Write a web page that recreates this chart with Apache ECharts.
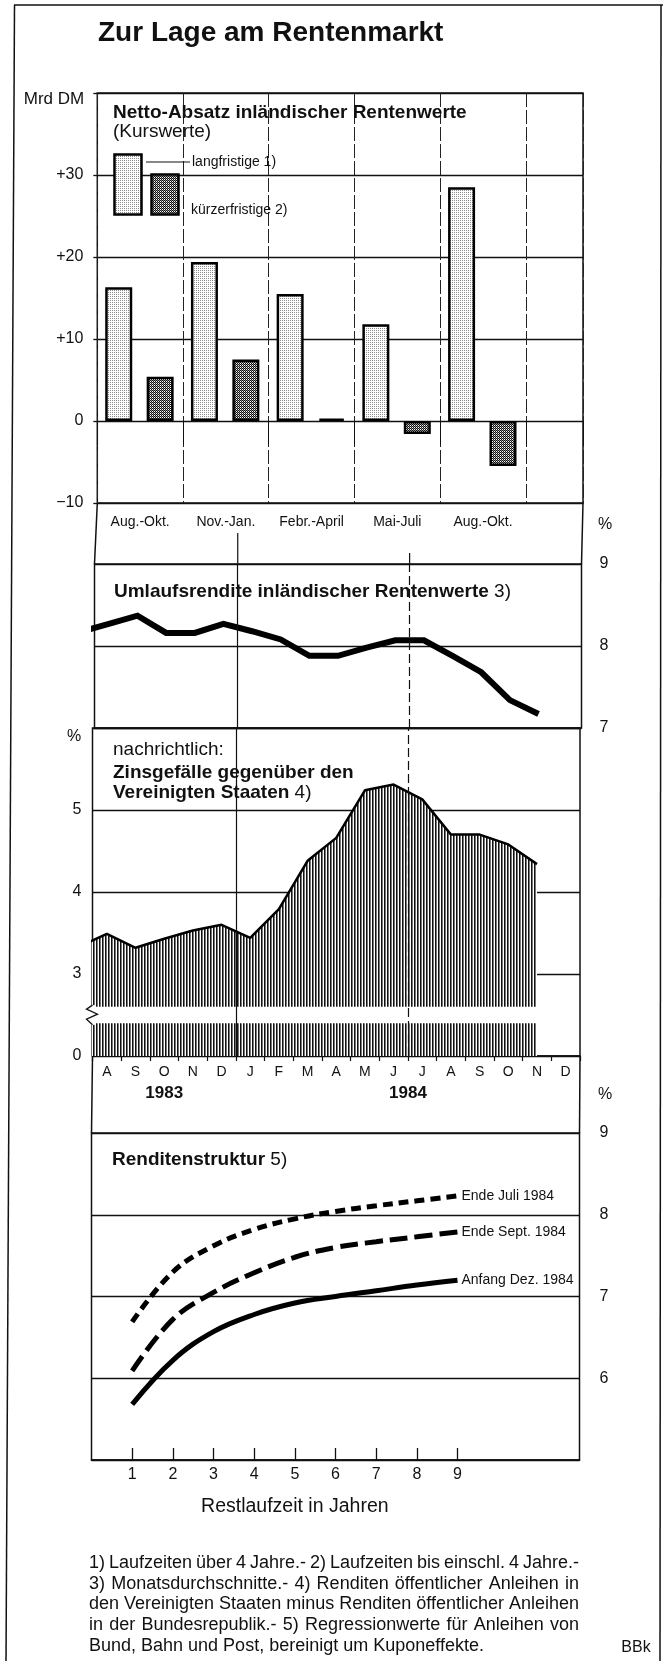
<!DOCTYPE html>
<html lang="de">
<head>
<meta charset="utf-8">
<title>Zur Lage am Rentenmarkt</title>
<script src="https://cdn.jsdelivr.net/npm/echarts@6.0.0/dist/echarts.min.js"></script>
<style>
  html, body { margin: 0; padding: 0; background: #ffffff; }
  #chart { width: 663px; height: 1661px; }
</style>
</head>
<body>
<div id="chart"></div>
<script>
// ---------------------------------------------------------
// Daten
// ---------------------------------------------------------
const quarterLabels = ['Aug.-Okt.', 'Nov.-Jan.', 'Febr.-April', 'Mai-Juli', 'Aug.-Okt.'];
const langfristig = [16.3, 19.4, 15.5, 11.8, 28.5];
const kuerzerfristig = [5.4, 7.5, 0.3, -1.6, -5.5];
const absatzTicks = [-10, 0, 10, 20, 30];
const absatzTickLabels = ['\u221210', '0', '+10', '+20', '+30'];

// Monate Aug. 1983 bis Dez. 1984
const monthLabels = ['A', 'S', 'O', 'N', 'D', 'J', 'F', 'M', 'A', 'M', 'J', 'J', 'A', 'S', 'O', 'N', 'D'];
const yearLabels = ['1983', '1984'];
// Monatswerte ab Juli 1983 (der Juliwert liegt links vom Rahmen und wird abgeschnitten)
const umlaufsrendite = [8.17, 8.27, 8.37, 8.16, 8.16, 8.27, 8.18, 8.08, 7.88, 7.88, 7.98, 8.07, 8.07, 7.88, 7.68, 7.34, 7.17];
const zinsgefaelle = [3.33, 3.49, 3.32, 3.43, 3.53, 3.60, 3.44, 3.79, 4.38, 4.66, 5.24, 5.31, 5.13, 4.70, 4.70, 4.58, 4.34];

// Renditenstruktur
const restlaufzeit = [1, 2, 3, 4, 5, 6, 7, 8, 9];
const endeJuli = [6.69, 7.30, 7.62, 7.82, 7.95, 8.04, 8.11, 8.17, 8.23];
const endeSept = [6.09, 6.72, 7.05, 7.29, 7.48, 7.60, 7.67, 7.73, 7.79];
const anfangDez = [5.68, 6.22, 6.57, 6.78, 6.92, 7.00, 7.07, 7.14, 7.20];

const footnotes = [
  '1) Laufzeiten über 4 Jahre.- 2) Laufzeiten bis einschl. 4 Jahre.-',
  '3) Monatsdurchschnitte.- 4) Renditen öffentlicher Anleihen in',
  'den Vereinigten Staaten minus Renditen öffentlicher Anleihen',
  'in der Bundesrepublik.- 5) Regressionwerte für Anleihen von',
  'Bund, Bahn und Post, bereinigt um Kuponeffekte.'
];

// ---------------------------------------------------------
// Layout
// ---------------------------------------------------------
const FONT = "'Liberation Sans', Arial, Helvetica, sans-serif";
const INK = '#111';
// Kästen der vier Teilbilder (Pixel)
const P = [
  { l: 97.3, r: 583.0, t: 93, b: 503 },
  { l: 94.5, r: 581.5, t: 564, b: 728 },
  { l: 92.5, r: 580.0, t: 728, b: 1056 },
  { l: 91.5, r: 579.5, t: 1133, b: 1460 }
];
const LONG_OFFSET = 0.75;   // Lage der Säulen im Quartal (Monate)
const SHORT_OFFSET = 2.2;
const janLine = 5;          // Jahreswechsel 1983/84
const julLine = 11;         // Jahresmitte 1984

function pattern(w, h, paint) {
  const c = document.createElement('canvas');
  c.width = w; c.height = h;
  const g = c.getContext('2d');
  g.fillStyle = '#fff';
  g.fillRect(0, 0, w, h);
  paint(g);
  return { image: c, repeat: 'repeat' };
}
const fillLang = pattern(2, 2, g => { g.fillStyle = '#8c8c8c'; g.fillRect(0, 0, 1, 1); });
const fillKurz = pattern(2, 2, g => {
  g.fillStyle = '#111'; g.fillRect(0, 0, 1, 1); g.fillRect(1, 1, 1, 1);
  g.fillStyle = '#888'; g.fillRect(1, 0, 1, 1);
});
const fillZins = pattern(3, 1, g => { g.fillStyle = '#111'; g.fillRect(0, 0, 1, 1); g.fillStyle = '#777'; g.fillRect(1, 0, 1, 1); });

const axisText = { fontFamily: FONT, fontSize: 16, color: INK };
const gridLine = { show: true, lineStyle: { color: INK, width: 1.3, type: 'solid' } };
const dividerMarks = {
  silent: true, symbol: ['none', 'none'], label: { show: false }, z: 6,
  emphasis: { disabled: true },
  data: [
    { xAxis: janLine, lineStyle: { color: INK, width: 1.2, type: 'solid' } },
    { xAxis: julLine, lineStyle: { color: INK, width: 1.2, type: [9, 4] } }
  ]
};

const chart = echarts.init(document.getElementById('chart'), null, { renderer: 'canvas', width: 663, height: 1661 });

const option = {
  animation: false,
  backgroundColor: '#fff',
  grid: P.map(p => ({
    left: p.l, top: p.t, width: p.r - p.l, height: p.b - p.t,
    show: true, borderColor: INK, borderWidth: 1.5
  })),
  xAxis: [
    { // 0: Netto-Absatz, Monate mit Quartalstrennung
      type: 'value', gridIndex: 0, min: 0, max: 17, interval: 3,
      axisLine: { show: false },
      axisTick: { show: true, length: 24, lineStyle: { color: INK, width: 1 } },
      splitLine: { show: true, lineStyle: { color: '#222', width: 1, type: [14, 3] } },
      axisLabel: {
        customValues: quarterLabels.map((_, i) => 3 * i + 1.5),
        formatter: v => {
          const i = (v - 1.5) / 3;
          return Number.isInteger(i) && quarterLabels[i] ? quarterLabels[i] : '';
        },
        margin: 12, fontFamily: FONT, fontSize: 14, color: INK
      }
    },
    { type: 'value', gridIndex: 1, min: 0, max: 17, show: false },
    { // 2: Monatsachse
      type: 'category', gridIndex: 2, data: monthLabels, boundaryGap: true, position: 'bottom',
      axisLine: { show: true, lineStyle: { color: INK, width: 1.5 } },
      axisTick: { show: true, interval: 0, length: 5, lineStyle: { color: INK, width: 1.2 } },
      axisLabel: { interval: 0, margin: 9, fontFamily: FONT, fontSize: 14, color: INK },
      splitLine: { show: false }
    },
    { type: 'value', gridIndex: 2, min: 0, max: 17, show: false, position: 'top' },
    { // 4: Restlaufzeit
      type: 'value', gridIndex: 3, min: 0, max: 12, interval: 1,
      axisLine: { show: true, lineStyle: { color: INK, width: 1.5 } },
      axisTick: { show: true, inside: true, length: 12, customValues: restlaufzeit, lineStyle: { color: INK, width: 1.3 } },
      axisLabel: { customValues: restlaufzeit, margin: 7, ...axisText },
      splitLine: { show: false }
    }
  ],
  yAxis: [
    {
      type: 'value', gridIndex: 0, min: -10, max: 40, interval: 10,
      axisLine: { show: false },
      axisTick: { show: true, length: 4, lineStyle: { color: INK, width: 1.3 } },
      axisLabel: {
        formatter: v => { const i = absatzTicks.indexOf(v); return i < 0 ? '' : absatzTickLabels[i]; },
        margin: 14, ...axisText
      },
      splitLine: gridLine
    },
    {
      type: 'value', gridIndex: 1, position: 'right', min: 7, max: 9, interval: 1,
      axisLine: { show: false }, axisTick: { show: false },
      axisLabel: { margin: 18, ...axisText },
      splitLine: gridLine
    },
    {
      type: 'value', gridIndex: 2, min: 2, max: 6, interval: 1,
      axisLine: { show: false }, axisTick: { show: false },
      axisLabel: { formatter: v => v === 2 ? '0' : (v === 6 ? '' : String(v)), margin: 11, ...axisText },
      splitLine: gridLine
    },
    {
      type: 'value', gridIndex: 3, position: 'right', min: 5, max: 9, interval: 1,
      axisLine: { show: false }, axisTick: { show: false },
      axisLabel: { formatter: v => v === 5 ? '' : String(v), margin: 20, ...axisText },
      splitLine: gridLine
    }
  ],
  series: [
    {
      name: 'langfristige 1)', type: 'bar', xAxisIndex: 0, yAxisIndex: 0,
      data: langfristig.map((v, i) => [3 * i + LONG_OFFSET, v]),
      barWidth: 27, barGap: '-100%', z: 3,
      itemStyle: { color: fillLang, borderColor: '#000', borderWidth: 2.5 }
    },
    {
      name: 'kürzerfristige 2)', type: 'bar', xAxisIndex: 0, yAxisIndex: 0,
      data: kuerzerfristig.map((v, i) => [3 * i + SHORT_OFFSET, v]),
      barWidth: 27, barGap: '-100%', z: 3,
      itemStyle: { color: fillKurz, borderColor: '#000', borderWidth: 2.5 }
    },
    {
      name: 'Umlaufsrendite', type: 'line', xAxisIndex: 1, yAxisIndex: 1,
      data: umlaufsrendite.map((v, i) => [i - 0.5, v]),
      symbol: 'none', clip: true, z: 3,
      lineStyle: { color: '#000', width: 6, join: 'miter' }
    },
    { name: 'Trennlinien oben', type: 'line', xAxisIndex: 1, yAxisIndex: 1, data: [], markLine: dividerMarks },
    {
      name: 'Zinsgefälle', type: 'line', xAxisIndex: 3, yAxisIndex: 2,
      data: zinsgefaelle.map((v, i) => [i - 0.5, v]),
      symbol: 'none', clip: true, z: 2,
      lineStyle: { color: '#000', width: 2.5 },
      areaStyle: { color: fillZins, opacity: 1 }
    },
    {
      name: 'Achsenbruch', type: 'line', xAxisIndex: 3, yAxisIndex: 2, data: [],
      markArea: {
        silent: true, z: 4, label: { show: false },
        itemStyle: { color: '#fff', opacity: 1, borderWidth: 0 },
        data: [[{ coord: [0, 2.4] }, { coord: [zinsgefaelle.length - 1.5, 2.6] }]]
      }
    },
    { name: 'Trennlinien unten', type: 'line', xAxisIndex: 3, yAxisIndex: 2, data: [], markLine: dividerMarks },
    {
      name: 'Ende Juli 1984', type: 'line', xAxisIndex: 4, yAxisIndex: 3, smooth: 0.4,
      data: restlaufzeit.map((x, i) => [x, endeJuli[i]]), symbol: 'none',
      lineStyle: { color: '#000', width: 5, type: [10, 6] },
      endLabel: { show: true, formatter: '{a}', distance: 4, fontFamily: FONT, fontSize: 14, color: INK }
    },
    {
      name: 'Ende Sept. 1984', type: 'line', xAxisIndex: 4, yAxisIndex: 3, smooth: 0.4,
      data: restlaufzeit.map((x, i) => [x, endeSept[i]]), symbol: 'none',
      lineStyle: { color: '#000', width: 5, type: [18, 7] },
      endLabel: { show: true, formatter: '{a}', distance: 4, fontFamily: FONT, fontSize: 14, color: INK }
    },
    {
      name: 'Anfang Dez. 1984', type: 'line', xAxisIndex: 4, yAxisIndex: 3, smooth: 0.4,
      data: restlaufzeit.map((x, i) => [x, anfangDez[i]]), symbol: 'none',
      lineStyle: { color: '#000', width: 5, type: 'solid' },
      endLabel: { show: true, formatter: '{a}', distance: 4, fontFamily: FONT, fontSize: 14, color: INK }
    }
  ]
};
chart.setOption(option);

// ---------------------------------------------------------
// Beschriftung und Rahmen
// ---------------------------------------------------------
const px = (axis, v) => chart.convertToPixel({ xAxisIndex: axis }, v);
const py = (axis, v) => chart.convertToPixel({ yAxisIndex: axis }, v);

function txt(x, y, text, font, align, extra) {
  return Object.assign({
    type: 'text', x, y, z: 20,
    style: { text, font, fill: INK, align: align || 'left', verticalAlign: 'middle',
             textAlign: align || 'left', textVerticalAlign: 'middle' }
  }, extra || {});
}
function richTxt(x, y, parts) {
  return {
    type: 'text', x, y, z: 20,
    style: {
      text: parts.map(p => '{' + p[0] + '|' + p[1] + '}').join(''),
      rich: {
        b: { font: 'bold 19px ' + FONT, fill: INK },
        r: { font: '19px ' + FONT, fill: INK }
      },
      fill: INK, align: 'left', verticalAlign: 'middle', textAlign: 'left', textVerticalAlign: 'middle'
    }
  };
}
function line(x1, y1, x2, y2, w, dash) {
  return { type: 'line', z: 20, shape: { x1, y1, x2, y2 }, style: { stroke: INK, lineWidth: w || 1.5, lineDash: dash || null } };
}

const measure = document.createElement('canvas').getContext('2d');
function justified(text, x, y, width, font, justify) {
  if (!justify) return [txt(x, y, text, font)];
  measure.font = font;
  const words = text.split(' ');
  const ws = words.map(w => measure.measureText(w).width);
  const gap = (width - ws.reduce((a, b) => a + b, 0)) / (words.length - 1);
  let cx = x;
  return words.map((w, i) => { const el = txt(cx, y, w, font); cx += ws[i] + gap; return el; });
}

const g = [];
// Aussenrahmen
g.push(line(14, 5, 663, 5, 1.5));
g.push(line(14.5, 5, 6, 1661, 1.5));
g.push(line(661, 5, 660, 1661, 1.5));
// Verbindungen der Teilbilder
g.push(line(P[0].l, P[0].b, P[1].l, P[1].t));
g.push(line(P[0].r, P[0].b, P[1].r, P[1].t));
g.push(line(P[2].l, P[2].b, P[3].l, P[3].t));
g.push(line(P[2].r, P[2].b, P[3].r, P[3].t));
g.push(line(px(1, janLine), 533, px(1, janLine), P[1].t, 1.2));
g.push(line(px(1, julLine), 553, px(1, julLine), P[1].t, 1.2));

// Achsenbruch links
const yb1 = py(2, 2.62), yb2 = py(2, 2.38), xl = P[2].l;
g.push({ type: 'rect', z: 19, shape: { x: xl - 3, y: yb1, width: 6, height: yb2 - yb1 }, style: { fill: '#fff' } });
g.push({ type: 'polyline', z: 20, shape: { points: [[xl, yb1], [xl - 6, yb1 + 4], [xl + 5, yb1 + 9], [xl - 6, yb1 + 14], [xl, yb2]] },
         style: { stroke: INK, lineWidth: 1.3, fill: null } });

// Titel
g.push(txt(98, 33, 'Zur Lage am Rentenmarkt', 'bold 28px ' + FONT));
g.push(txt(54, 99, 'Mrd DM', '17px ' + FONT, 'center'));
g.push(richTxt(113, 113, [['b', 'Netto-Absatz inländischer Rentenwerte']]));
g.push(txt(113, 132, '(Kurswerte)', '19px ' + FONT));

// Legende
g.push({ type: 'rect', z: 20, shape: { x: 114.5, y: 154.5, width: 27, height: 60 }, style: { fill: fillLang, stroke: '#000', lineWidth: 2.5 } });
g.push({ type: 'rect', z: 20, shape: { x: 151.5, y: 174.5, width: 27, height: 40 }, style: { fill: fillKurz, stroke: '#000', lineWidth: 2.5 } });
g.push(line(146, 162, 190, 162, 1));
g.push(txt(192, 162, 'langfristige 1)', '14px ' + FONT));
g.push(txt(191, 210, 'kürzerfristige 2)', '14px ' + FONT));

g.push(txt(605, 525, '%', '16px ' + FONT, 'center'));
g.push(richTxt(114, 592, [['b', 'Umlaufsrendite inländischer Rentenwerte'], ['r', ' 3)']]));

g.push(txt(74, 737, '%', '16px ' + FONT, 'center'));
g.push(txt(113, 750, 'nachrichtlich:', '19px ' + FONT));
g.push(richTxt(113, 773, [['b', 'Zinsgefälle gegenüber den']]));
g.push(richTxt(113, 793, [['b', 'Vereinigten Staaten'], ['r', ' 4)']]));

// Jahreszahlen unter der Monatsachse
g.push(txt(px(3, 2.5), 1093, yearLabels[0], 'bold 17px ' + FONT, 'center'));
g.push(txt(px(3, 11), 1093, yearLabels[1], 'bold 17px ' + FONT, 'center'));

g.push(txt(605, 1095, '%', '16px ' + FONT, 'center'));
g.push(richTxt(112, 1160, [['b', 'Renditenstruktur'], ['r', ' 5)']]));
g.push(txt(px(4, 5), 1507, 'Restlaufzeit in Jahren', '19.5px ' + FONT, 'center'));

// Fussnoten (Blocksatz)
footnotes.forEach((t, i) => {
  justified(t, 89, 1563 + i * 20.7, 490, '18px ' + FONT, i < footnotes.length - 1).forEach(el => g.push(el));
});
g.push(txt(636, 1648, 'BBk', '16px ' + FONT, 'center'));

chart.setOption({ graphic: { elements: g } });
</script>
</body>
</html>
